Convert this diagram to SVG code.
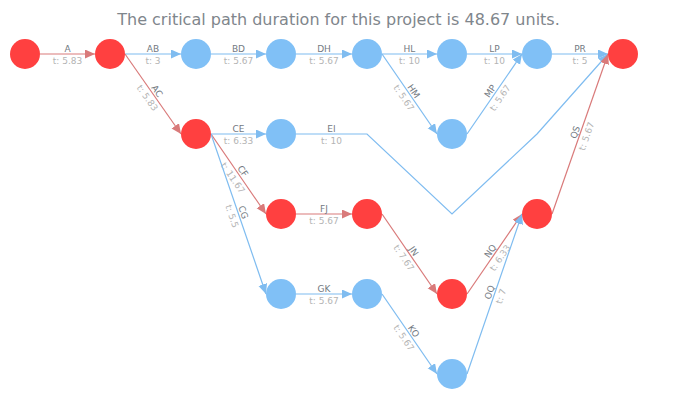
<svg xmlns="http://www.w3.org/2000/svg" width="687" height="400" viewBox="0 0 687 400">
<style>
.title{font-family:"DejaVu Sans",Verdana,sans-serif;font-size:16px;fill:#7f868c;text-anchor:middle}
.nm{font-family:"DejaVu Sans",Verdana,sans-serif;font-size:9px;fill:#737a82;text-anchor:middle}
.tt{font-family:"DejaVu Sans",Verdana,sans-serif;font-size:9px;fill:#b4b4b4;text-anchor:middle}
.er{fill:none;stroke:#d97a7a;stroke-width:1.2;marker-end:url(#ar)}
.eb{fill:none;stroke:#7fbcf0;stroke-width:1.2;marker-end:url(#ab)}
.nr{fill:#ff4040}
.nb{fill:#80c0f6}
</style>
<defs>
<marker id="ar" markerUnits="userSpaceOnUse" markerWidth="11" markerHeight="10" refX="10" refY="4.5" orient="auto"><path d="M0,0 L10,4.5 L0,9 z" fill="#d97a7a"/></marker>
<marker id="ab" markerUnits="userSpaceOnUse" markerWidth="11" markerHeight="10" refX="10" refY="4.5" orient="auto"><path d="M0,0 L10,4.5 L0,9 z" fill="#7fbcf0"/></marker>
</defs>
<text class="title" x="338.5" y="25">The critical path duration for this project is 48.67 units.</text>
<g id="connectors">
<g id="e-A"><path class="er" d="M40,54 L95,54"/><text class="nm" x="67.5" y="52">A</text><text class="tt" x="67.5" y="64">t: 5.83</text></g>
<g id="e-AB"><path class="eb" d="M125,54 L181,54"/><text class="nm" x="153" y="52">AB</text><text class="tt" x="153" y="64">t: 3</text></g>
<g id="e-BD"><path class="eb" d="M211,54 L266,54"/><text class="nm" x="238.5" y="52">BD</text><text class="tt" x="238.5" y="64">t: 5.67</text></g>
<g id="e-DH"><path class="eb" d="M296,54 L352,54"/><text class="nm" x="324" y="52">DH</text><text class="tt" x="324" y="64">t: 5.67</text></g>
<g id="e-HL"><path class="eb" d="M382,54 L437,54"/><text class="nm" x="409.5" y="52">HL</text><text class="tt" x="409.5" y="64">t: 10</text></g>
<g id="e-LP"><path class="eb" d="M467,54 L522,54"/><text class="nm" x="494.5" y="52">LP</text><text class="tt" x="494.5" y="64">t: 10</text></g>
<g id="e-PR"><path class="eb" d="M552,54 L608,54"/><text class="nm" x="580" y="52">PR</text><text class="tt" x="580" y="64">t: 5</text></g>
<g id="e-AC"><path class="er" d="M125,54 L181,134"/><g transform="translate(153,94) rotate(55)"><text class="nm" x="0" y="-2">AC</text><text class="tt" x="0" y="10">t: 5.83</text></g></g>
<g id="e-HM"><path class="eb" d="M382,54 L437,134"/><g transform="translate(409.5,94) rotate(55.5)"><text class="nm" x="0" y="-2">HM</text><text class="tt" x="0" y="10">t: 5.67</text></g></g>
<g id="e-MP"><path class="eb" d="M467,134 L522,54"/><g transform="translate(494.5,94) rotate(-55.5)"><text class="nm" x="0" y="-2">MP</text><text class="tt" x="0" y="10">t: 5.67</text></g></g>
<g id="e-CE"><path class="eb" d="M211,134 L266,134"/><text class="nm" x="238.5" y="132">CE</text><text class="tt" x="238.5" y="144">t: 6.33</text></g>
<g id="e-EI"><path class="eb" d="M296,134 L367,134 L452,214 L537,134 L608,54"/><text class="nm" x="331.5" y="132">EI</text><text class="tt" x="331.5" y="144">t: 10</text></g>
<g id="e-CF"><path class="er" d="M211,134 L266,214"/><g transform="translate(238.5,174) rotate(55.5)"><text class="nm" x="0" y="-2">CF</text><text class="tt" x="0" y="10">t: 11.67</text></g></g>
<g id="e-CG"><path class="eb" d="M211,134 L266,294"/><g transform="translate(238.5,214) rotate(71)"><text class="nm" x="0" y="-2">CG</text><text class="tt" x="0" y="10">t: 5.5</text></g></g>
<g id="e-FJ"><path class="er" d="M296,214 L352,214"/><text class="nm" x="324" y="212">FJ</text><text class="tt" x="324" y="224">t: 5.67</text></g>
<g id="e-JN"><path class="er" d="M382,214 L437,294"/><g transform="translate(409.5,254) rotate(55.5)"><text class="nm" x="0" y="-2">JN</text><text class="tt" x="0" y="10">t: 7.67</text></g></g>
<g id="e-GK"><path class="eb" d="M296,294 L352,294"/><text class="nm" x="324" y="292">GK</text><text class="tt" x="324" y="304">t: 5.67</text></g>
<g id="e-KO"><path class="eb" d="M382,294 L437,374"/><g transform="translate(409.5,334) rotate(55.5)"><text class="nm" x="0" y="-2">KO</text><text class="tt" x="0" y="10">t: 5.67</text></g></g>
<g id="e-NQ"><path class="er" d="M467,294 L522,214"/><g transform="translate(494.5,254) rotate(-55.5)"><text class="nm" x="0" y="-2">NQ</text><text class="tt" x="0" y="10">t: 6.33</text></g></g>
<g id="e-OQ"><path class="eb" d="M467,374 L522,214"/><g transform="translate(494.5,294) rotate(-71)"><text class="nm" x="0" y="-2">OQ</text><text class="tt" x="0" y="10">t: 7</text></g></g>
<g id="e-QS"><path class="er" d="M552,214 L608,54"/><g transform="translate(580,134) rotate(-70.7)"><text class="nm" x="0" y="-2">QS</text><text class="tt" x="0" y="10">t: 5.67</text></g></g>
</g>
<g id="node-start"><circle class="nr" cx="25" cy="54" r="15"/></g>
<g id="node-A"><circle class="nr" cx="110" cy="54" r="15"/></g>
<g id="node-B"><circle class="nb" cx="196" cy="54" r="15"/></g>
<g id="node-D"><circle class="nb" cx="281" cy="54" r="15"/></g>
<g id="node-H"><circle class="nb" cx="367" cy="54" r="15"/></g>
<g id="node-L"><circle class="nb" cx="452" cy="54" r="15"/></g>
<g id="node-P"><circle class="nb" cx="537" cy="54" r="15"/></g>
<g id="node-R"><circle class="nr" cx="623" cy="54" r="15"/></g>
<g id="node-C"><circle class="nr" cx="196" cy="134" r="15"/></g>
<g id="node-E"><circle class="nb" cx="281" cy="134" r="15"/></g>
<g id="node-M"><circle class="nb" cx="452" cy="134" r="15"/></g>
<g id="node-F"><circle class="nr" cx="281" cy="214" r="15"/></g>
<g id="node-J"><circle class="nr" cx="367" cy="214" r="15"/></g>
<g id="node-Q"><circle class="nr" cx="537" cy="214" r="15"/></g>
<g id="node-G"><circle class="nb" cx="281" cy="294" r="15"/></g>
<g id="node-K"><circle class="nb" cx="367" cy="294" r="15"/></g>
<g id="node-N"><circle class="nr" cx="452" cy="294" r="15"/></g>
<g id="node-O"><circle class="nb" cx="452" cy="374" r="15"/></g>
</svg>
